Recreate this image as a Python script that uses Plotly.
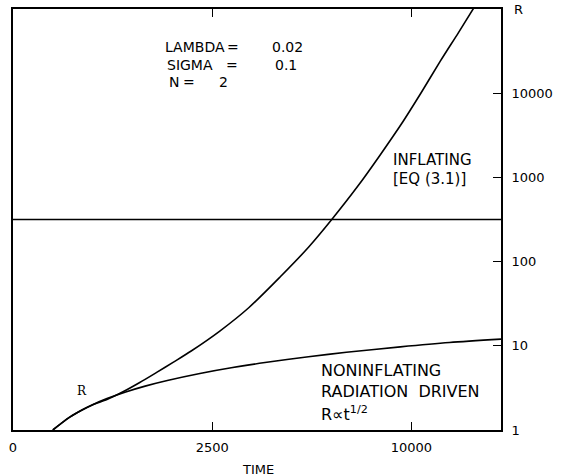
import numpy as np
import plotly.graph_objects as go

# ---- data (time, R) ----
infl_time = [100, 200, 300, 400, 556, 762, 1012, 1300, 1622, 2000, 2694, 3500, 4500, 5500, 6400, 7500, 8500, 9500, 10500, 11500, 12500, 13400]
infl_R = [1.0, 1.41, 1.73, 2.0, 2.30, 2.84, 3.66, 4.83, 6.40, 8.67, 14.96, 28.3, 66, 148, 316, 794, 1860, 4300, 10200, 24000, 52500, 105000]

rad_time = [100, 200, 300, 400, 556, 800, 1100, 1500, 2200, 3000, 4000, 5500, 7000, 9450, 12000, 15000]
rad_R = [1.0, 1.41, 1.73, 2.0, 2.36, 2.83, 3.32, 3.87, 4.69, 5.48, 6.32, 7.42, 8.37, 9.72, 10.95, 12.0]

flat_time = [0, 15000]
flat_R = [316, 316]

x_tick_times = [0, 2500, 10000]
x_tick_text = ["0", "2500", "10000"]
y_tick_vals = [1, 10, 100, 1000, 10000]
y_tick_text = ["1", "10", "100", "1000", "10000"]

W, H = 563, 476
L, R_, T, B = 13, 501, 7, 430  # plot area pixel edges


def px(x):
    return (x - L) / (R_ - L)


def py(y):
    return (B - y) / (B - T)


sq = lambda arr: list(np.sqrt(np.array(arr, dtype=float)))

line = dict(color="black", width=1.6)
fig = go.Figure()
fig.add_trace(go.Scatter(x=sq(infl_time), y=infl_R, mode="lines", line=dict(line, shape="spline", smoothing=0.8)))
fig.add_trace(go.Scatter(x=sq(rad_time), y=rad_R, mode="lines", line=dict(line, shape="spline", smoothing=0.8)))
fig.add_trace(go.Scatter(x=sq(flat_time), y=flat_R, mode="lines", line=line))

FONT = "DejaVu Sans"
fig.update_layout(
    width=W, height=H,
    margin=dict(l=L, r=W - R_, t=T, b=H - B, pad=0),
    paper_bgcolor="white", plot_bgcolor="white",
    showlegend=False,
    font=dict(family=FONT, color="black", size=13),
)
fig.update_xaxes(
    range=[0, float(np.sqrt(15000))],
    tickvals=sq(x_tick_times), ticktext=x_tick_text,
    ticks="inside", ticklen=8, tickwidth=1.4, tickcolor="black",
    showline=True, linecolor="black", linewidth=1.6, mirror="ticks",
    showgrid=False, zeroline=False,
    tickfont=dict(family=FONT, size=13), ticklabelstandoff=5,
)
fig.update_yaxes(
    type="log", range=[0, 5], side="right",
    tickvals=y_tick_vals, ticktext=y_tick_text,
    ticks="inside", ticklen=8, tickwidth=1.4, tickcolor="black",
    showline=True, linecolor="black", linewidth=1.6, mirror=True,
    showgrid=False, zeroline=False,
    tickfont=dict(family=FONT, size=13), ticklabelstandoff=6,
)


def ann(text, x, y, size=13, xanchor="left", family=FONT):
    fig.add_annotation(text=text, x=px(x), y=py(y), xref="paper", yref="paper",
                       xanchor=xanchor, yanchor="middle", showarrow=False,
                       font=dict(family=family, size=size, color="black"))


ann("LAMBDA", 163, 45, size=14)
ann("=", 233, 45, size=14, xanchor="center")
ann("0.02", 270, 45, size=14)
ann("SIGMA", 165, 63, size=14)
ann("=", 232, 63, size=14, xanchor="center")
ann("0.1", 273, 63, size=14)
ann("N", 167, 80, size=14)
ann("=", 189, 80, size=14, xanchor="center")
ann("2", 217, 80, size=14)

ann("INFLATING", 391, 159, size=15)
ann("[EQ (3.1)]", 391, 178, size=15)

ann("NONINFLATING", 319, 370, size=16)
ann("RADIATION  DRIVEN", 319, 391, size=16)
ann("R∝t<sup>1/2</sup>", 319, 413, size=16)

ann("R", 82, 391, size=12, xanchor="center", family="DejaVu Serif")
ann("R", 518, 8, size=13, xanchor="center")
ann("TIME", 258, 470, size=13, xanchor="center")

fig.write_html("out.html")
